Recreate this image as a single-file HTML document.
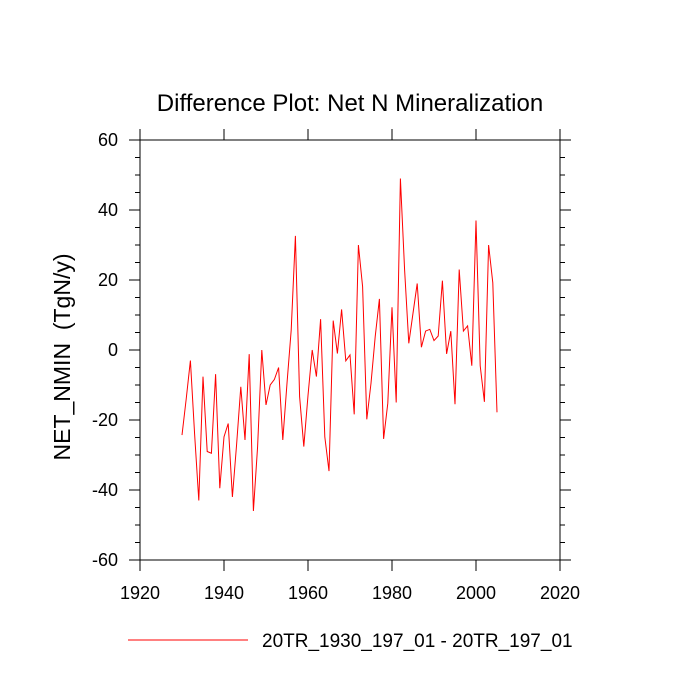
<!DOCTYPE html>
<html><head><meta charset="utf-8"><style>
body{margin:0;background:#fff;}
svg{display:block;font-family:"Liberation Sans",sans-serif;}
</style></head><body>
<svg id="chart" width="700" height="700">
<text x="350" y="111" font-size="24" text-anchor="middle">Difference Plot: Net N Mineralization</text>
<text transform="translate(70,357) rotate(-90)" font-size="23" text-anchor="middle" xml:space="preserve" style="white-space:pre">NET_NMIN  (TgN/y)</text>
<g id="axes"></g>
<polyline id="series" fill="none" stroke="#ff0000" stroke-width="1"/>
<line x1="128" y1="640" x2="248" y2="640" stroke="#ff0000" stroke-width="1"/>
<text x="262" y="647" font-size="19">20TR_1930_197_01 - 20TR_197_01</text>
</svg>
<script>
const years = [];
for (let y = 1930; y <= 2005; y++) years.push(y);
const values = [-24.3,-14,-3,-24,-43,-7.6,-29,-29.5,-6.9,-39.5,-24.8,-21,-42,-27,-10.5,-25.7,-1.2,-46,-27.6,0,-15.7,-10,-8.4,-5,-25.7,-9.5,5.7,32.6,-13.3,-27.6,-13,0,-7.6,8.8,-24.8,-34.6,8.4,
-1,11.6,-3.1,-1.4,-18.4,30,18.1,-19.8,-9.5,3.8,14.6,-25.4,-15.2,12.2,-15,49,22.9,1.9,10.5,19,0.8,5.4,5.9,2.7,4,19.8,-1.1,5.4,-15.5,23,5.4,6.9,-4.5,37,-4.5,-14.8,30,19.2,-17.8];
const xTicks = [1920,1940,1960,1980,2000,2020];
const yTicks = [-60,-40,-20,0,20,40,60];
const L=140,R=560,T=140,B=560;
const xs = v => L + (v-1920)/(100)*(R-L);
const ys = v => B - (v+60)/120*(B-T);
const ns="http://www.w3.org/2000/svg";
const g=document.getElementById('axes');
function ln(x1,y1,x2,y2,name,w){const l=document.createElementNS(ns,'line');
l.setAttribute('x1',x1);l.setAttribute('y1',y1);l.setAttribute('x2',x2);l.setAttribute('y2',y2);
l.setAttribute('stroke','#000');l.setAttribute('stroke-width',w||1);


g.appendChild(l);return l;}
function tx(x,y,s,anchor,name){const t=document.createElementNS(ns,'text');
t.setAttribute('x',x);t.setAttribute('y',y);t.setAttribute('font-size','18');t.setAttribute('text-anchor',anchor);t.textContent=s;


g.appendChild(t);}
const fr=document.createElementNS(ns,'rect');
fr.setAttribute('x',L);fr.setAttribute('y',T);fr.setAttribute('width',R-L);fr.setAttribute('height',B-T);
fr.setAttribute('fill','none');fr.setAttribute('stroke','#000');


g.appendChild(fr);
xTicks.forEach(v=>{const x=xs(v);ln(x,B,x,B+11,'x-tick');ln(x,T,x,T-11,'x-tick-top');tx(x,599,String(v),'middle','x-tick-label');});
yTicks.forEach(v=>{const y=ys(v);ln(L,y,L-11,y,'y-tick');ln(R,y,R+11,y,'y-tick-right');tx(L-22,y+6,String(v),'end','y-tick-label');});
for(let v=-55;v<60;v+=5){if(v%20===0)continue;const y=ys(v);ln(L,y,L-5,y,'y-minor-tick');ln(R,y,R+5,y,'y-minor-tick-right');}
document.getElementById('series').setAttribute('points',years.map((y,i)=>xs(y)+','+ys(values[i])).join(' '));
</script>
</body></html>
